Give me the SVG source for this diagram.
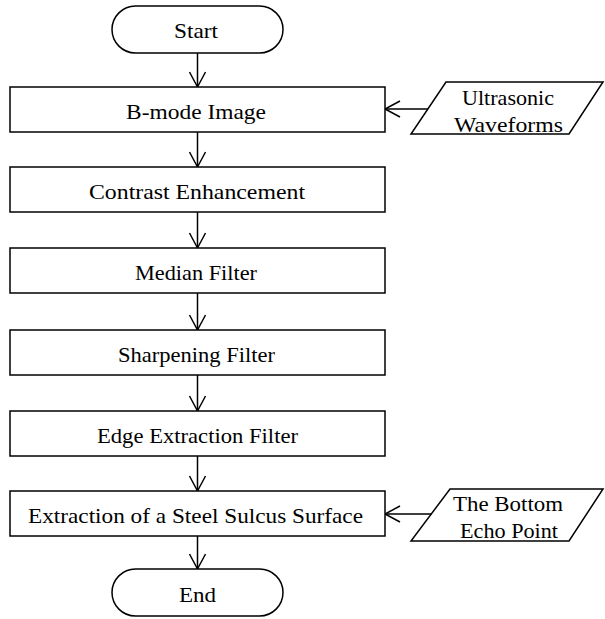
<svg xmlns="http://www.w3.org/2000/svg" width="605" height="619" viewBox="0 0 605 619">
<style>
.s{fill:#fff;stroke:#000;stroke-width:1.5}
text{font-family:'Liberation Serif','Times New Roman','DejaVu Serif',serif;font-size:21px;fill:#000;text-anchor:middle}
.c{fill:none;stroke:#000;stroke-width:1.5}
</style>
<defs>
<marker id="a" markerWidth="20" markerHeight="20" refX="16" refY="9" orient="auto" markerUnits="userSpaceOnUse">
<path d="M1,1 L16,9 L1,17" fill="none" stroke="#000" stroke-width="1.5"/>
</marker>
</defs>
<rect width="605" height="619" fill="#fff"/>
<g id="connectors">
<line class="c" x1="197.5" y1="53" x2="197.5" y2="87" marker-end="url(#a)"/>
<line class="c" x1="197.5" y1="132" x2="197.5" y2="167" marker-end="url(#a)"/>
<line class="c" x1="197.5" y1="212" x2="197.5" y2="248" marker-end="url(#a)"/>
<line class="c" x1="197.5" y1="293" x2="197.5" y2="330" marker-end="url(#a)"/>
<line class="c" x1="197.5" y1="375" x2="197.5" y2="411" marker-end="url(#a)"/>
<line class="c" x1="197.5" y1="456" x2="197.5" y2="491" marker-end="url(#a)"/>
<line class="c" x1="197.5" y1="536" x2="197.5" y2="569" marker-end="url(#a)"/>
<line class="c" x1="431" y1="109" x2="385" y2="109" marker-end="url(#a)"/>
<line class="c" x1="432" y1="514" x2="385" y2="514" marker-end="url(#a)"/>
</g>
<g id="start"><rect class="s" x="112" y="6" width="171" height="47" rx="23.5"/><text x="196" y="38" textLength="44" lengthAdjust="spacingAndGlyphs">Start</text></g>
<g id="bmode"><rect class="s" x="10" y="87" width="375" height="45"/><text x="196" y="119" textLength="140" lengthAdjust="spacingAndGlyphs">B-mode Image</text></g>
<g id="contrast"><rect class="s" x="10" y="167" width="375" height="45"/><text x="197" y="199" textLength="216" lengthAdjust="spacingAndGlyphs">Contrast Enhancement</text></g>
<g id="median"><rect class="s" x="10" y="248" width="375" height="45"/><text x="196" y="280" textLength="122" lengthAdjust="spacingAndGlyphs">Median Filter</text></g>
<g id="sharpen"><rect class="s" x="10" y="330" width="375" height="45"/><text x="196.5" y="362" textLength="157" lengthAdjust="spacingAndGlyphs">Sharpening Filter</text></g>
<g id="edge"><rect class="s" x="10" y="411" width="375" height="45"/><text x="197.5" y="443" textLength="201" lengthAdjust="spacingAndGlyphs">Edge Extraction Filter</text></g>
<g id="extract"><rect class="s" x="10" y="491" width="375" height="45"/><text x="195.5" y="523" textLength="335" lengthAdjust="spacingAndGlyphs">Extraction of a Steel Sulcus Surface</text></g>
<g id="end"><rect class="s" x="112" y="569" width="171" height="47" rx="23.5"/><text x="197.5" y="602" textLength="37" lengthAdjust="spacingAndGlyphs">End</text></g>
<g id="ultrasonic"><polygon class="s" points="446,82 603,82 569,134 411,134"/><text x="508" y="105" textLength="92" lengthAdjust="spacingAndGlyphs">Ultrasonic</text><text x="508.5" y="132" textLength="109" lengthAdjust="spacingAndGlyphs">Waveforms</text></g>
<g id="bottom"><polygon class="s" points="450,489 603,489 569,541 411,541"/><text x="508" y="511" textLength="110" lengthAdjust="spacingAndGlyphs">The Bottom</text><text x="509" y="538" textLength="98" lengthAdjust="spacingAndGlyphs">Echo Point</text></g>
</svg>
